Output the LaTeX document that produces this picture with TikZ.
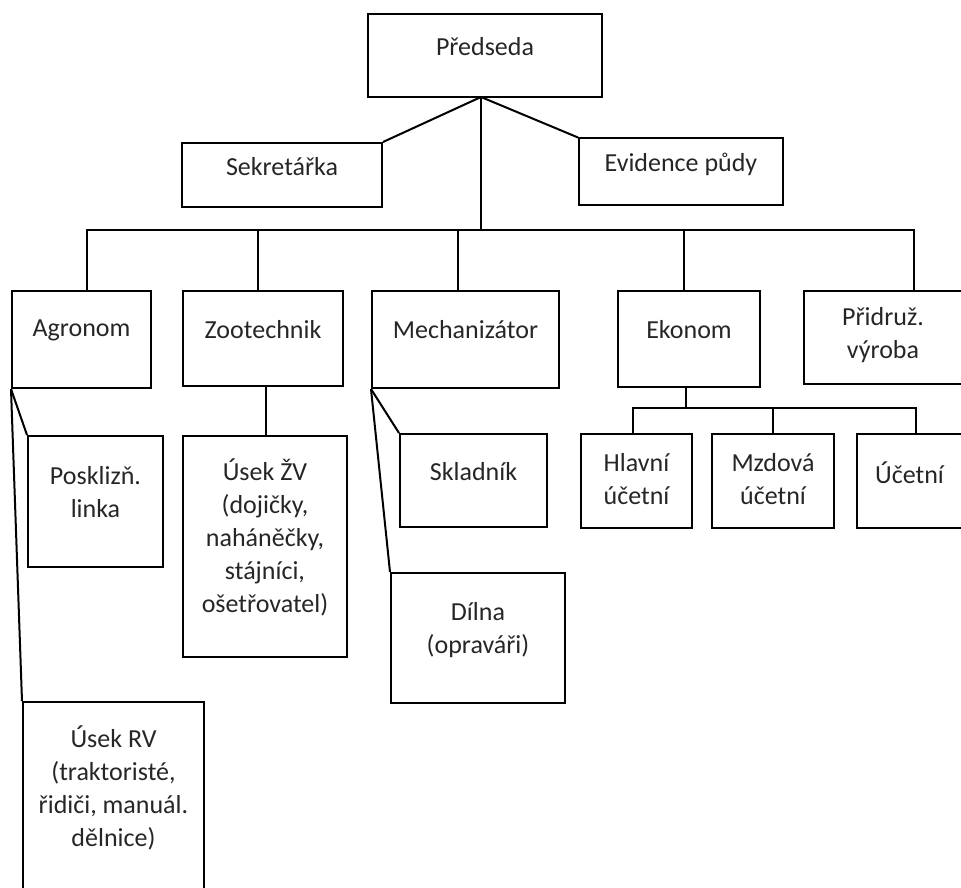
\documentclass[tikz,border=0pt]{standalone}
\usepackage{fontspec}
\setmainfont{Carlito}
\tikzset{
  box/.style={draw, line width=2pt, inner sep=0pt},
  txt/.style={align=center, text=black!85, font=\fontsize{26}{33}\selectfont, inner sep=0pt},
  link/.style={line width=2pt}
}
\begin{document}
\begin{tikzpicture}[x=1pt,y=-1pt]
\useasboundingbox (0,0) rectangle (961,888);
% top level
\node[box, minimum width=234, minimum height=83] (pred) at (485,55.5) {};
\node[txt] (pred-t) at ([yshift=8.5]pred) {Předseda};
\node[box, minimum width=200, minimum height=64] (sekr) at (282,175) {};
\node[txt] (sekr-t) at ([yshift=8]sekr) {Sekretářka};
\node[box, minimum width=204, minimum height=66] (evid) at (681,171.5) {};
\node[txt] (evid-t) at ([yshift=7]evid) {Evidence půdy};
% second level
\node[box, minimum width=139, minimum height=97] (agr) at (81.5,339.5) {};
\node[txt] (agr-t) at ([yshift=9.5]agr) {Agronom};
\node[box, minimum width=160, minimum height=95] (zoo) at (263,338.5) {};
\node[txt] (zoo-t) at ([yshift=8.5]zoo) {Zootechnik};
\node[box, minimum width=187, minimum height=97] (mech) at (465.5,339.5) {};
\node[txt] (mech-t) at ([yshift=9.5]mech) {Mechanizátor};
\node[box, minimum width=142, minimum height=96] (ekon) at (689,339) {};
\node[txt] (ekon-t) at ([yshift=9]ekon) {Ekonom};
\node[box, minimum width=158, minimum height=93] (prid) at (883,337.5) {};
\node[txt] (prid-t) at ([yshift=2.5]prid) {Přidruž.\\výroba};
% third level
\node[box, minimum width=135, minimum height=131] (posk) at (95.5,501.5) {};
\node[txt] (posk-t) at ([yshift=9.5]posk) {Posklizň.\\linka};
\node[box, minimum width=181, minimum height=198] (urv) at (113.5,801) {};
\node[txt] (urv-t) at ([yshift=13]urv) {Úsek RV\\(traktoristé,\\řidiči, manuál.\\dělnice)};
\node[box, minimum width=164, minimum height=221] (uzv) at (265,546.5) {};
\node[txt] (uzv-t) at ([yshift=9]uzv) {Úsek ŽV\\(dojičky,\\naháněčky,\\stájníci,\\ošetřovatel)};
\node[box, minimum width=147, minimum height=93] (skl) at (473.5,480.5) {};
\node[txt] (skl-t) at ([yshift=8.5]skl) {Skladník};
\node[box, minimum width=174, minimum height=130] (dil) at (478,638) {};
\node[txt] (dil-t) at ([yshift=8]dil) {Dílna\\(opraváři)};
\node[box, minimum width=111, minimum height=94] (hlav) at (636.5,481) {};
\node[txt] (hlav-t) at ([yshift=2]hlav) {Hlavní\\účetní};
\node[box, minimum width=122, minimum height=94] (mzd) at (773,481) {};
\node[txt] (mzd-t) at ([yshift=2]mzd) {Mzdová\\účetní};
\node[box, minimum width=105, minimum height=94] (uct) at (909.5,481) {};
\node[txt] (uct-t) at ([yshift=8]uct) {Účetní};
% connectors
\coordinate (hub) at (481,97);
\coordinate (bar) at (481,230);
\draw[link] (hub) -- (sekr.north east);
\draw[link] (hub) -- (evid.north west);
\draw[link] (hub) -- (bar);
\draw[link] (bar) -| ([xshift=5.5]agr.north);
\draw[link] (bar) -| ([xshift=-5]zoo.north);
\draw[link] (bar) -| ([xshift=-7.5]mech.north);
\draw[link] (bar) -| ([xshift=-5]ekon.north);
\draw[link] (bar) -| ([xshift=31]prid.north);
\draw[link] (agr.south west) -- (posk.north west);
\draw[link] (agr.south west) -- (urv.north west);
\draw[link] ([xshift=3]zoo.south) -- ([xshift=3]zoo.south |- uzv.north);
\draw[link] (mech.south west) -- (skl.north west);
\draw[link] (mech.south west) -- (dil.north west);
\coordinate (ebar) at (686,408);
\draw[link] ([xshift=-3]ekon.south) -- (ebar);
\draw[link] (ebar) -| ([xshift=-3.5]hlav.north);
\draw[link] (ebar) -| (mzd.north);
\draw[link] (ebar) -| ([xshift=6.5]uct.north);
\end{tikzpicture}
\end{document}
